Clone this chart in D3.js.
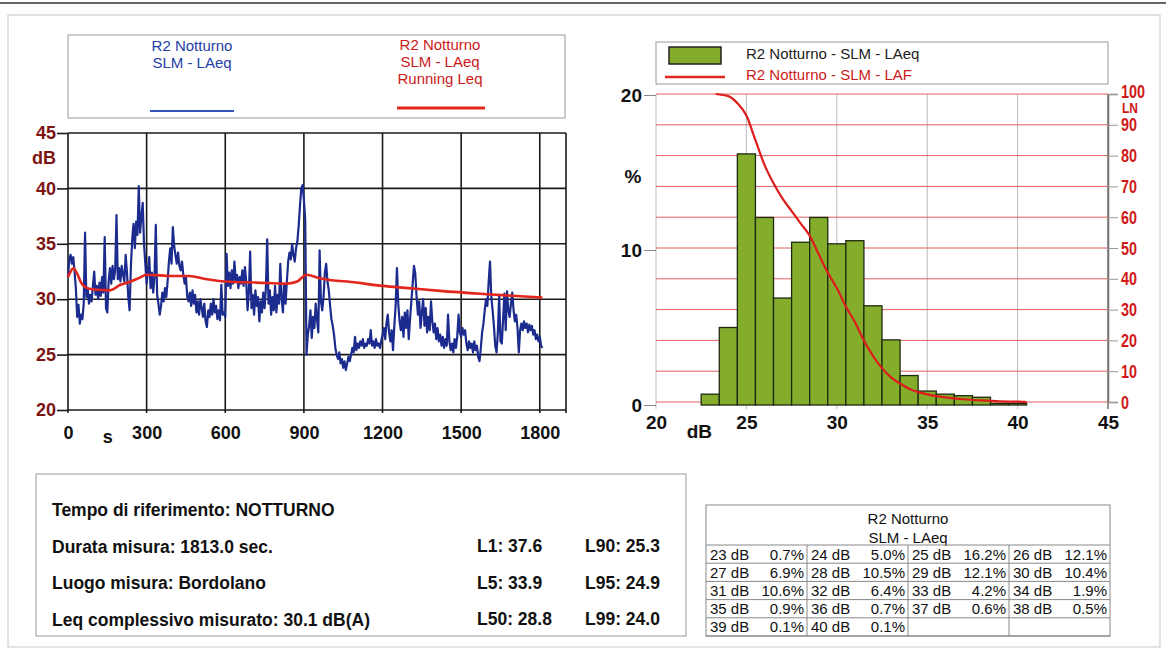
<!DOCTYPE html>
<html>
<head>
<meta charset="utf-8">
<script src="https://cdn.jsdelivr.net/npm/d3@7"></script>
<style>
  body { margin: 0; background: #fff; }
  svg { font-family: "Liberation Sans", Arial, sans-serif; }
</style>
</head>
<body>
<svg id="chart" width="1166" height="652"></svg>
<script>
// ---- data ----
const laeqStep = 5; // s between samples
const laeq = [
  32.0, 33.6, 34.0, 33.2, 33.8, 32.5, 31.0, 28.4, 29.5, 27.8, 28.6, 28.2,
  29.6, 36.0, 30.2, 31.0, 29.6, 30.4, 29.8, 31.2, 32.5, 30.4, 31.2, 30.0,
  31.5, 30.3, 32.0, 30.6, 35.6, 29.2, 28.8, 31.6, 32.8, 31.4, 33.0, 31.8,
  32.6, 37.6, 31.8, 32.8, 31.6, 33.0, 32.2, 31.6, 34.0, 32.4, 30.2, 29.0,
  33.0, 35.4, 36.8, 34.6, 37.0, 35.8, 40.2, 36.0, 37.4, 38.7, 35.0, 33.2,
  31.4, 32.6, 33.8, 31.0, 32.4, 30.6, 32.0, 36.7, 30.4, 29.6, 28.6, 29.4,
  30.6, 29.8, 31.0, 30.2, 31.6, 33.4, 34.6, 33.2, 36.5, 34.8, 34.0, 33.2,
  34.2, 33.0, 32.6, 33.4, 32.2, 31.4, 32.0, 30.2, 29.8, 30.6, 29.4, 30.8,
  29.6, 30.4, 28.8, 29.8, 28.6, 30.0, 29.2, 28.4, 29.6, 28.0, 27.5, 29.0,
  28.4, 29.6, 28.6, 30.0, 28.8, 29.4, 28.2, 29.0, 28.1, 31.3, 28.6, 28.8,
  28.4, 34.1, 31.2, 32.4, 31.0, 32.6, 31.4, 33.4, 31.6, 32.2, 31.0, 32.0,
  31.4, 32.6, 31.2, 32.9, 31.6, 29.0, 30.6, 34.3, 29.2, 30.4, 28.6, 30.8,
  29.4, 30.2, 28.0, 29.8, 28.8, 30.6, 29.2, 31.0, 35.4, 29.6, 30.8, 28.6,
  30.2, 29.0, 31.2, 28.8, 30.4, 29.6, 33.2, 30.0, 28.8, 31.4, 29.6, 31.6,
  33.4, 34.2, 33.6, 35.0, 34.0, 33.4, 34.6, 35.2, 36.6, 38.4, 40.0, 40.3,
  39.0, 37.2, 25.0, 26.8, 27.6, 29.0, 26.5, 28.4, 27.4, 29.6, 28.2, 27.0,
  34.4, 29.8, 29.0, 30.2, 32.4, 33.2, 31.6, 30.8, 29.4, 28.2, 27.6, 26.8,
  25.6, 25.0, 24.6, 25.2, 24.2, 24.6, 23.8, 24.4, 23.6, 24.2, 24.8, 24.4,
  25.0, 25.6, 25.2, 26.6, 25.4, 26.0, 25.6, 26.2, 25.8, 26.4, 25.6, 26.0,
  25.8, 26.4, 26.0, 27.2, 25.8, 26.2, 25.6, 26.4, 25.8, 26.0, 25.6, 26.2,
  26.8, 27.4, 26.4, 27.8, 28.6, 27.0, 26.2, 27.2, 25.4, 27.6, 29.4, 32.8,
  29.6, 28.0, 27.2, 28.4, 26.6, 28.8, 27.4, 29.0, 26.4, 28.2, 29.8, 31.4,
  33.0, 32.3, 30.2, 28.6, 29.8, 27.4, 28.8, 30.0, 27.6, 29.2, 27.0, 28.4,
  27.2, 29.8, 28.0, 27.0, 27.8, 26.4, 27.4, 26.2, 26.8, 25.8, 26.6, 25.6,
  26.4, 25.8, 28.6, 26.2, 25.4, 26.0, 25.2, 26.4, 25.6, 26.6, 28.6, 27.0,
  26.6, 27.4, 26.8, 27.2, 26.0, 25.4, 26.2, 25.6, 26.0, 25.2, 26.2, 25.4,
  25.8, 24.8, 24.4, 25.6, 27.0, 27.8, 29.0, 30.0, 29.4, 31.6, 33.4, 30.2,
  29.0, 27.6, 25.8, 25.2, 27.0, 30.4, 26.2, 26.0, 28.2, 30.5, 27.2, 30.7,
  29.0, 28.4, 29.6, 30.6, 29.0, 28.0, 28.6, 27.4, 25.2, 27.2, 27.8, 27.2,
  28.0, 27.4, 27.8, 27.0, 27.7, 27.2, 27.6, 26.8, 27.2, 26.4, 26.8, 26.2,
  26.6, 25.8, 25.6
];
const runningLeq = [
  [0, 32.0], [10, 32.5], [20, 32.8], [35, 32.3], [50, 31.5], [65, 31.1], [90, 30.9],
  [160, 30.8], [200, 31.3], [240, 31.6], [270, 31.9], [300, 32.2], [400, 32.1],
  [460, 32.1], [530, 31.8], [600, 31.6], [720, 31.5], [830, 31.4], [875, 31.6],
  [895, 32.0], [910, 32.2], [960, 31.9], [1100, 31.5], [1200, 31.2], [1300, 31.0],
  [1420, 30.75], [1600, 30.45], [1810, 30.15]
];
const timeTicks = [0, 300, 600, 900, 1200, 1500, 1800];
const dbTicks = [20, 25, 30, 35, 40, 45];

const levels = [23, 24, 25, 26, 27, 28, 29, 30, 31, 32, 33, 34, 35, 36, 37, 38, 39, 40];
const percents = [0.7, 5.0, 16.2, 12.1, 6.9, 10.5, 12.1, 10.4, 10.6, 6.4, 4.2, 1.9, 0.9, 0.7, 0.6, 0.5, 0.1, 0.1];
const lnCurve = [
  [23.3, 100], [24.0, 99.3], [24.5, 97], [25.0, 93], [25.5, 85], [26.0, 77], [26.5, 71],
  [27.0, 66], [27.5, 62], [28.0, 58], [28.5, 54], [29.0, 48], [29.5, 42], [30.0, 37],
  [30.5, 31], [31.0, 26], [31.5, 20], [32.0, 15], [32.5, 11], [33.0, 8], [33.5, 6],
  [34.0, 4.3], [34.5, 3.2], [35.0, 2.5], [35.5, 1.9], [36.0, 1.5], [37.0, 0.9],
  [38.0, 0.5], [39.0, 0.2], [40.0, 0.1], [40.5, 0]
];
const histTicks = [20, 25, 30, 35, 40, 45];
const pctTicks = [0, 10, 20];
const lnTicks = [0, 10, 20, 30, 40, 50, 60, 70, 80, 90, 100];

const infoLines = [
  "Tempo di riferimento: NOTTURNO",
  "Durata misura: 1813.0 sec.",
  "Luogo misura: Bordolano",
  "Leq complessivo misurato: 30.1 dB(A)"
];
const statsLeft = ["L1: 37.6", "L5: 33.9", "L50: 28.8"];
const statsRight = ["L90: 25.3", "L95: 24.9", "L99: 24.0"];

const blue = "#1c2b8e";
const red = "#e3261c";
const maroon = "#7c1414";

const svg = d3.select("#chart");

// page frame
svg.append("line").attr("x1", 0).attr("x2", 1166).attr("y1", 3).attr("y2", 3)
  .attr("stroke", "#666").attr("stroke-width", 2);
svg.append("rect").attr("x", 8).attr("y", 15).attr("width", 1152).attr("height", 632)
  .attr("fill", "none").attr("stroke", "#c8c8c8");

// ================= left chart =================
const x = d3.scaleLinear().domain([0, 1900]).range([68, 566]);
const y = d3.scaleLinear().domain([20, 45]).range([410, 133]);

// legend
svg.append("rect").attr("x", 68).attr("y", 35).attr("width", 497).attr("height", 83)
  .attr("fill", "none").attr("stroke", "#999");
const legL = svg.append("g").style("font-size", "15px").attr("text-anchor", "middle");
legL.append("text").attr("x", 192).attr("y", 51).attr("fill", "#2340a8").text("R2 Notturno");
legL.append("text").attr("x", 192).attr("y", 68).attr("fill", "#2340a8").text("SLM - LAeq");
legL.append("text").attr("x", 440).attr("y", 50).attr("fill", "#cc1a1a").text("R2 Notturno");
legL.append("text").attr("x", 440).attr("y", 67).attr("fill", "#cc1a1a").text("SLM - LAeq");
legL.append("text").attr("x", 440).attr("y", 84).attr("fill", "#cc1a1a").text("Running Leq");
svg.append("line").attr("x1", 150).attr("x2", 234).attr("y1", 111).attr("y2", 111)
  .attr("stroke", "#3552b8").attr("stroke-width", 2);
svg.append("line").attr("x1", 397).attr("x2", 485).attr("y1", 108).attr("y2", 108)
  .attr("stroke", red).attr("stroke-width", 3);

// grid
const gridL = svg.append("g").attr("stroke", "#1a1a1a").attr("stroke-width", 1.6);
gridL.selectAll(".h").data(dbTicks).join("line")
  .attr("x1", x(0)).attr("x2", x(1900)).attr("y1", d => y(d)).attr("y2", d => y(d));
gridL.selectAll(".v").data(timeTicks.concat([1900])).join("line")
  .attr("x1", d => x(d)).attr("x2", d => x(d)).attr("y1", y(45)).attr("y2", y(20) + 3);

// axes
const yAxL = svg.append("g").attr("transform", `translate(${x(0)},0)`)
  .call(d3.axisLeft(y).tickValues(dbTicks).tickSize(11).tickPadding(1));
yAxL.select(".domain").remove();
yAxL.selectAll("line").attr("stroke", "#1a1a1a").attr("stroke-width", 1.6);
yAxL.selectAll("text").attr("fill", maroon).style("font-size", "18px").style("font-weight", "bold");
svg.append("text").attr("x", 56).attr("y", y(45) + 31).attr("text-anchor", "end")
  .attr("fill", maroon).style("font-size", "18px").style("font-weight", "bold").text("dB");

const xAxL = svg.append("g").attr("transform", `translate(0,${y(20)})`)
  .call(d3.axisBottom(x).tickValues(timeTicks).tickFormat(d3.format("d")).tickSize(0).tickPadding(16));
xAxL.select(".domain").remove();
xAxL.selectAll("text").attr("fill", "#111").style("font-size", "18px").style("font-weight", "bold");
svg.append("text").attr("x", x(152)).attr("y", y(20) + 33).attr("text-anchor", "middle")
  .attr("fill", "#111").style("font-size", "18px").style("font-weight", "bold").text("s");

// series
const lineL = d3.line().x((d, i) => x(i * laeqStep)).y(d => y(d));
svg.append("path").datum(laeq).attr("d", lineL).attr("fill", "none")
  .attr("stroke", blue).attr("stroke-width", 2.2).attr("stroke-linejoin", "round");
const lineR = d3.line().curve(d3.curveMonotoneX).x(d => x(d[0])).y(d => y(d[1]));
svg.append("path").datum(runningLeq).attr("d", lineR).attr("fill", "none")
  .attr("stroke", red).attr("stroke-width", 2.6);

// ================= right chart =================
const xh = d3.scaleLinear().domain([20, 45]).range([656, 1108]);
const yp = d3.scaleLinear().domain([0, 20]).range([405, 95]);
const yl = d3.scaleLinear().domain([0, 100]).range([402, 94]);

// legend
svg.append("rect").attr("x", 656).attr("y", 42).attr("width", 452).attr("height", 42)
  .attr("fill", "none").attr("stroke", "#999");
svg.append("rect").attr("x", 669).attr("y", 47).attr("width", 52).attr("height", 17)
  .attr("fill", "#84ad2c").attr("stroke", "#222").attr("stroke-width", 1.5);
svg.append("line").attr("x1", 665).attr("x2", 725).attr("y1", 77).attr("y2", 77)
  .attr("stroke", red).attr("stroke-width", 2.5);
svg.append("text").attr("x", 746).attr("y", 59).style("font-size", "15px").attr("fill", "#222")
  .text("R2 Notturno - SLM - LAeq");
svg.append("text").attr("x", 746).attr("y", 80).style("font-size", "15px").attr("fill", "#cc1a1a")
  .text("R2 Notturno - SLM - LAF");

// grid
svg.append("g").selectAll("line").data(histTicks).join("line")
  .attr("x1", d => xh(d)).attr("x2", d => xh(d)).attr("y1", yl(100)).attr("y2", yp(0) + 4)
  .attr("stroke", d => d === 45 ? "#777" : "#bbb").attr("stroke-width", d => d === 45 ? 1.6 : 1);
svg.append("g").selectAll("line").data(lnTicks).join("line")
  .attr("x1", xh(20)).attr("x2", xh(45)).attr("y1", d => yl(d)).attr("y2", d => yl(d))
  .attr("stroke", "#e06060").attr("stroke-width", 1);

// bars
svg.append("g").selectAll("rect").data(levels).join("rect")
  .attr("x", d => xh(d - 0.5)).attr("width", d => xh(d + 0.5) - xh(d - 0.5))
  .attr("y", (d, i) => yp(percents[i])).attr("height", (d, i) => yp(0) - yp(percents[i]))
  .attr("fill", "#84ad2c").attr("stroke", "#1e2a10").attr("stroke-width", 1.3);

// LN curve
const lineLn = d3.line().curve(d3.curveMonotoneX).x(d => xh(d[0])).y(d => yl(d[1]));
svg.append("path").datum(lnCurve).attr("d", lineLn).attr("fill", "none")
  .attr("stroke", "#dd1c1c").attr("stroke-width", 2.2);

// left % axis
const yAxP = svg.append("g").attr("transform", `translate(${xh(20)},0)`)
  .call(d3.axisLeft(yp).tickValues(pctTicks).tickSize(12).tickPadding(2));
yAxP.select(".domain").remove();
yAxP.selectAll("line").attr("stroke", "#888");
yAxP.selectAll("text").attr("fill", "#111").style("font-size", "19px").style("font-weight", "bold");
svg.append("text").attr("x", 633).attr("y", 183).attr("text-anchor", "middle")
  .attr("fill", "#111").style("font-size", "19px").style("font-weight", "bold").text("%");

// right LN axis (condensed labels)
const yAxN = svg.append("g").attr("transform", `translate(${xh(45)},0)`)
  .call(d3.axisRight(yl).tickValues(lnTicks).tickSize(10).tickPadding(3));
yAxN.select(".domain").attr("stroke", "#777").attr("stroke-width", 1.6);
yAxN.selectAll("line").attr("stroke", "#999");
yAxN.selectAll("text").attr("fill", "#d01818").style("font-size", "19px").style("font-weight", "bold")
  .attr("textLength", d => String(d).length * 8).attr("lengthAdjust", "spacingAndGlyphs");
yAxN.select(".tick:last-of-type text").attr("dy", "0.2em");
svg.append("text").attr("x", xh(45) + 14).attr("y", yl(100) + 19)
  .attr("fill", "#d01818").style("font-size", "14px").style("font-weight", "bold")
  .attr("textLength", 16).attr("lengthAdjust", "spacingAndGlyphs").text("LN");

// x axis
const xAxH = svg.append("g").attr("transform", `translate(0,${yp(0)})`)
  .call(d3.axisBottom(xh).tickValues(histTicks).tickSize(0).tickPadding(11));
xAxH.select(".domain").remove();
xAxH.selectAll("text").attr("fill", "#111").style("font-size", "19px").style("font-weight", "bold");
svg.append("text").attr("x", xh(22.4)).attr("y", yp(0) + 33).attr("text-anchor", "middle")
  .attr("fill", "#111").style("font-size", "19px").style("font-weight", "bold").text("dB");

// ================= info box =================
svg.append("rect").attr("x", 36).attr("y", 474).attr("width", 650).attr("height", 162)
  .attr("fill", "none").attr("stroke", "#999");
const info = svg.append("g").style("font-size", "17.5px").style("font-weight", "bold").attr("fill", "#111");
info.selectAll(".l").data(infoLines).join("text")
  .attr("x", 52).attr("y", (d, i) => 516 + i * 36.5).text(d => d);
info.selectAll(".a").data(statsLeft).join("text")
  .attr("x", 477).attr("y", (d, i) => 552 + i * 36.5).text(d => d);
info.selectAll(".b").data(statsRight).join("text")
  .attr("x", 585).attr("y", (d, i) => 552 + i * 36.5).text(d => d);

// ================= table =================
const tX = 706, tY = 505, colW = 101, rowH = 18.2, headH = 40;
const tbl = svg.append("g").style("font-size", "15px").attr("fill", "#111");
const nRows = Math.ceil(levels.length / 4);
tbl.append("rect").attr("x", tX).attr("y", tY).attr("width", colW * 4).attr("height", headH + rowH * nRows)
  .attr("fill", "none").attr("stroke", "#888");
tbl.append("text").attr("x", tX + colW * 2).attr("y", tY + 19).attr("text-anchor", "middle").text("R2 Notturno");
tbl.append("text").attr("x", tX + colW * 2).attr("y", tY + 38).attr("text-anchor", "middle").text("SLM - LAeq");
for (let r = 0; r <= nRows; r++) {
  tbl.append("line").attr("x1", tX).attr("x2", tX + colW * 4)
    .attr("y1", tY + headH + r * rowH).attr("y2", tY + headH + r * rowH).attr("stroke", "#888");
}
for (let c = 1; c < 4; c++) {
  tbl.append("line").attr("x1", tX + c * colW).attr("x2", tX + c * colW)
    .attr("y1", tY + headH).attr("y2", tY + headH + rowH * nRows).attr("stroke", "#888");
}
levels.forEach((lv, i) => {
  const c = i % 4, r = Math.floor(i / 4);
  const yy = tY + headH + r * rowH + 14.5;
  tbl.append("text").attr("x", tX + c * colW + 4).attr("y", yy).text(lv + " dB");
  tbl.append("text").attr("x", tX + (c + 1) * colW - 3).attr("y", yy).attr("text-anchor", "end")
    .text(percents[i].toFixed(1) + "%");
});
</script>
</body>
</html>
